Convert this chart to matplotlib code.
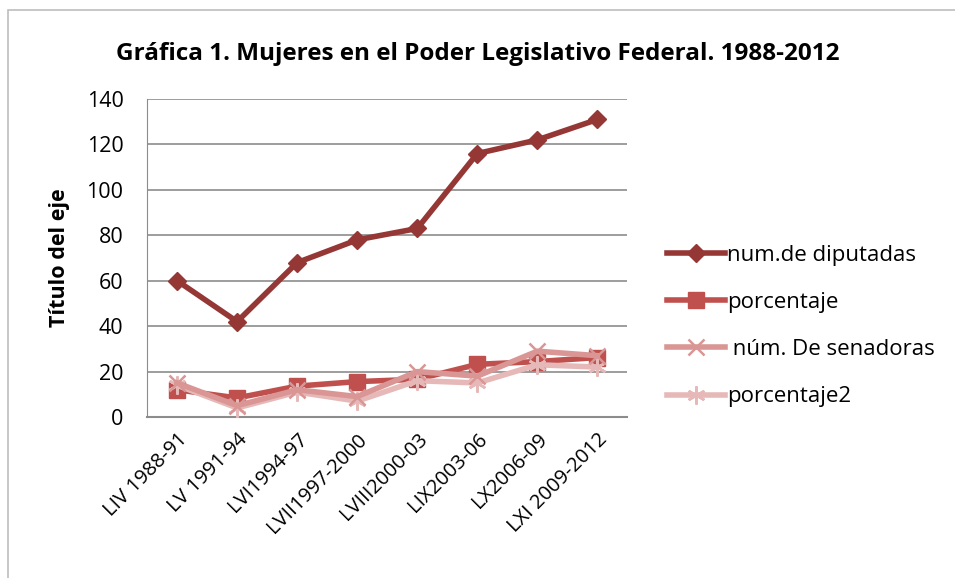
import matplotlib.pyplot as plt
from matplotlib.patches import Rectangle

# datos
periodos = ["LIV 1988-91", "LV 1991-94", "LVI1994-97", "LVII1997-2000",
            "LVIII2000-03", "LIX2003-06", "LX2006-09", "LXI 2009-2012"]
diputadas = [60, 42, 68, 78, 83, 116, 122, 131]
porcentaje = [12, 8.4, 13.6, 15.6, 16.6, 23.2, 24.4, 26.2]
senadoras = [15, 5, 12, 9, 20, 18, 29, 27]
porcentaje2 = [14, 4, 11, 7, 16, 15, 23, 22]

plt.rcParams['font.family'] = ['Open Sans', 'DejaVu Sans']

fig = plt.figure(figsize=(9.55, 5.78), dpi=100)
fig.patches.append(Rectangle((0.008, -0.05), 1.1, 1.033, transform=fig.transFigure,
                             fill=False, edgecolor='#bdbdbd', linewidth=1.2))
ax = fig.add_axes([0.154, 0.2785, 0.503, 0.5502])

x = range(len(periodos))
ax.plot(x, porcentaje2, color='#E6B9B8', linewidth=4, marker=(6, 2, 0), markersize=13,
        markeredgewidth=1.8, label='porcentaje2', zorder=3)
ax.plot(x, senadoras, color='#D99694', linewidth=4, marker='x', markersize=12,
        markeredgewidth=1.8, label=' núm. De senadoras', zorder=4)
ax.plot(x, porcentaje, color='#C0504D', linewidth=4, marker='s', markersize=11,
        label='porcentaje', zorder=2)
ax.plot(x, diputadas, color='#953735', linewidth=4, marker='D', markersize=9,
        label='num.de diputadas', zorder=5)

ax.set_xlim(-0.5, len(periodos) - 0.5)
ax.set_ylim(0, 140)
ax.set_yticks(range(0, 141, 20))
ax.set_xticks(list(x))
ax.set_xticklabels(periodos, rotation=45, ha='right', rotation_mode='anchor', fontsize=14.5)
ax.tick_params(axis='y', labelsize=15.5, length=0, pad=17)
ax.tick_params(axis='x', length=0, pad=9)
ax.grid(axis='y', color='#8c8c8c', linewidth=1.2)
ax.set_axisbelow(True)
for s in ['top', 'right']:
    ax.spines[s].set_visible(False)
ax.spines['left'].set_color('#8c8c8c')
ax.spines['bottom'].set_color('#8c8c8c')
ax.spines['bottom'].set_linewidth(1.5)

ax.set_ylabel("Título del eje", fontsize=15.5, fontweight='bold')
ax.yaxis.set_label_coords(-0.16, 0.5)
fig.text(0.5, 0.906, "Gráfica 1. Mujeres en el Poder Legislativo Federal. 1988-2012",
         ha='center', va='center', fontsize=17.5, fontweight='bold')

handles, labels = ax.get_legend_handles_labels()
order = [3, 2, 1, 0]
fig.legend([handles[i] for i in order], [labels[i] for i in order],
           loc='center left', bbox_to_anchor=(0.678, 0.436), frameon=False,
           fontsize=16, handlelength=2.6, handletextpad=0.1, labelspacing=1.18)

fig.savefig("out.png", dpi=100)
